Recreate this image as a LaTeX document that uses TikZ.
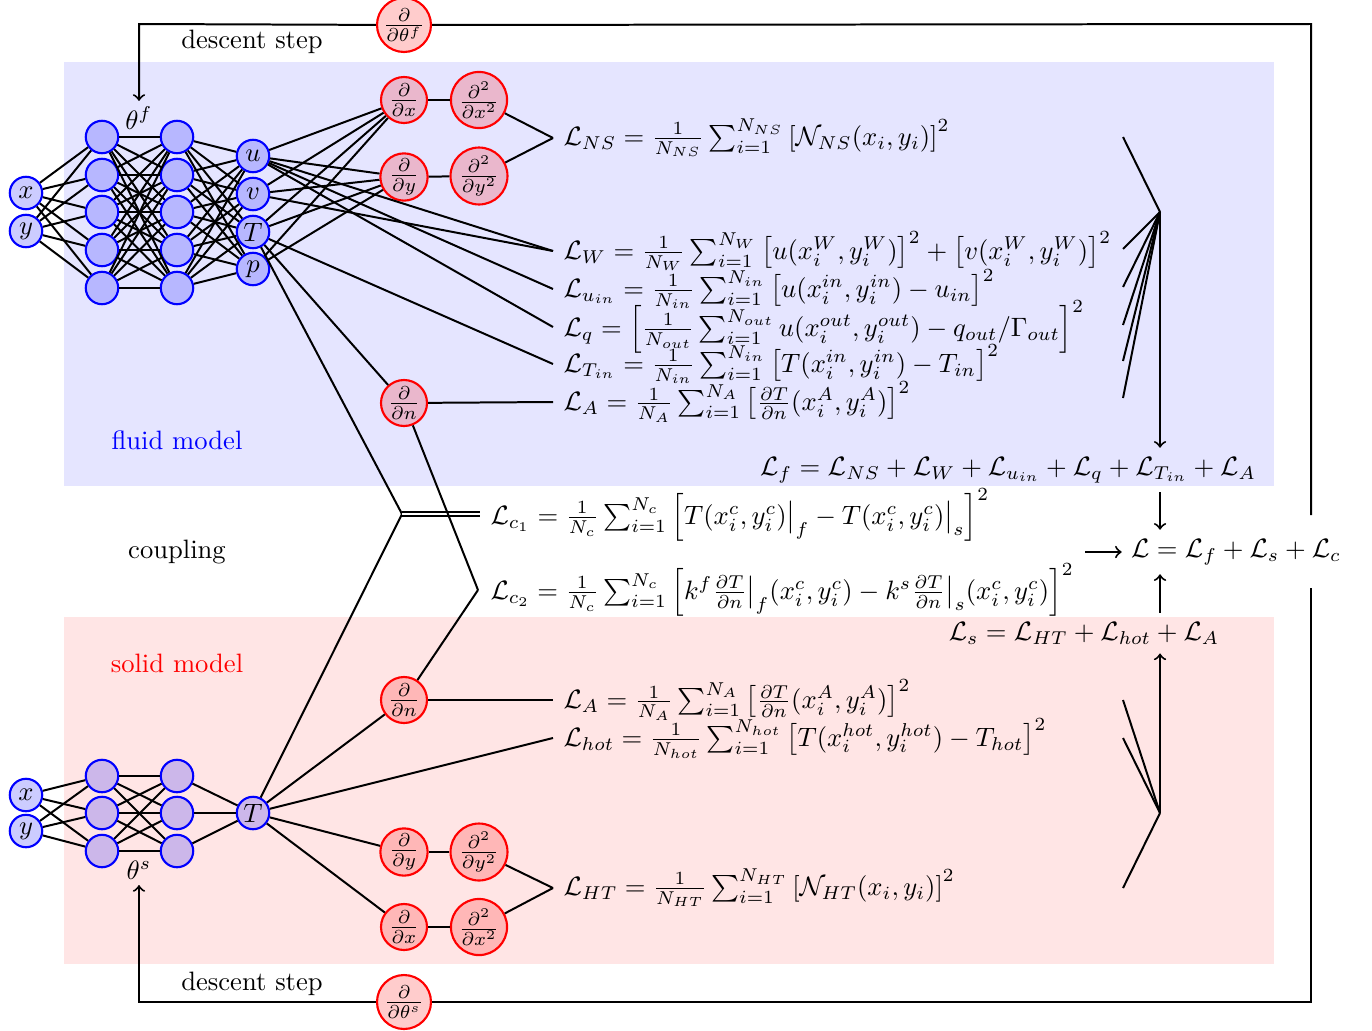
\documentclass[tikz,border=0pt]{standalone}
\usepackage{amsmath,amssymb}
\usetikzlibrary{calc}
\begin{document}
\begin{tikzpicture}[x=0.376pt,y=-0.376pt,
  conn/.style={line width=0.75pt},
  net/.style={circle,draw=blue,line width=0.8pt,fill=blue,fill opacity=0.2,text opacity=1,minimum size=12.2pt,inner sep=0pt},
  der/.style={circle,draw=red,line width=0.8pt,fill=red,fill opacity=0.2,text opacity=1,minimum size=17.3pt,inner sep=0pt},
  dder/.style={der,minimum size=21.1pt},
  tder/.style={der,minimum size=20.3pt},
  loss/.style={anchor=west,inner xsep=3.8pt,inner ysep=0pt},
  sumnode/.style={inner sep=3.33pt},
  lbl/.style={inner sep=2pt}]
\useasboundingbox (0,0) rectangle (1372,1030);
% backgrounds
\fill[blue!10] (64,62) rectangle (1274,486);
\fill[red!10] (64,617) rectangle (1274,964);

% ---------- fluid network ----------
\node[net] (fx) at (26,193) {$x$};
\node[net] (fy) at (26,231) {$y$};
\foreach \i/\y in {1/137,2/175,3/212,4/250,5/288}{
  \node[net] (fa\i) at (102,\y) {};
  \node[net] (fb\i) at (177,\y) {};
}
\node[net] (fu) at (253,156) {$u$};
\node[net] (fv) at (253,194) {$v$};
\node[net] (fT) at (253,232) {$T$};
\node[net] (fp) at (253,269) {$p$};
\foreach \i in {1,...,5}{
  \draw[conn] (fx) -- (fa\i);
  \draw[conn] (fy) -- (fa\i);
  \foreach \j in {1,...,5}{\draw[conn] (fa\i) -- (fb\j);}
  \foreach \o in {fu,fv,fT,fp}{\draw[conn] (fb\i) -- (\o);}
}
\node[lbl] (thf) at (139,118) {$\theta^f$};

% fluid derivative nodes
\node[der] (fdx) at (404,100) {$\frac{\partial}{\partial x}$};
\node[dder] (fdxx) at (479,100) {$\frac{\partial^2}{\partial x^2}$};
\node[der] (fdy) at (404,177) {$\frac{\partial}{\partial y}$};
\node[dder] (fdyy) at (479,176) {$\frac{\partial^2}{\partial y^2}$};
\node[der] (fdn) at (404,403) {$\frac{\partial}{\partial n}$};

% fluid losses
\node[loss] (LNS) at (553,138) {$\mathcal{L}_{NS} = \frac{1}{N_{NS}}\sum_{i=1}^{N_{NS}}\left[\mathcal{N}_{NS}(x_i,y_i)\right]^2$};
\node[loss] (LW) at (553,251) {$\mathcal{L}_{W} = \frac{1}{N_{W}}\sum_{i=1}^{N_{W}}\left[u(x_i^W,y_i^W)\right]^2+\left[v(x_i^W,y_i^W)\right]^2$};
\node[loss] (Luin) at (553,289) {$\mathcal{L}_{u_{in}} = \frac{1}{N_{in}}\sum_{i=1}^{N_{in}}\left[u(x_i^{in},y_i^{in})-u_{in}\right]^2$};
\node[loss] (Lq) at (553,327) {$\mathcal{L}_{q} = \left[\frac{1}{N_{out}}\sum_{i=1}^{N_{out}}u(x_i^{out},y_i^{out})-q_{out}/\Gamma_{out}\right]^2$};
\node[loss] (LTin) at (553,364) {$\mathcal{L}_{T_{in}} = \frac{1}{N_{in}}\sum_{i=1}^{N_{in}}\left[T(x_i^{in},y_i^{in})-T_{in}\right]^2$};
\node[loss] (fLA) at (553,402) {$\mathcal{L}_{A} = \frac{1}{N_{A}}\sum_{i=1}^{N_{A}}\left[\frac{\partial T}{\partial n}(x_i^A,y_i^A)\right]^2$};
\node[sumnode] (Lf) at (1008,470) {$\mathcal{L}_f = \mathcal{L}_{NS}+\mathcal{L}_{W}+\mathcal{L}_{u_{in}}+\mathcal{L}_q+\mathcal{L}_{T_{in}}+\mathcal{L}_A$};

% fluid connections
\foreach \o in {fu,fv,fT,fp}{
  \draw[conn] (\o) -- (fdx);
  \draw[conn] (\o) -- (fdy);
}
\draw[conn] (fdx) -- (fdxx);
\draw[conn] (fdy) -- (fdyy);
\draw[conn] (fdxx) -- (LNS.west);
\draw[conn] (fdyy) -- (LNS.west);
\draw[conn] (fu) -- (LW.west);
\draw[conn] (fv) -- (LW.west);
\draw[conn] (fu) -- (Luin.west);
\draw[conn] (fu) -- (Lq.west);
\draw[conn] (fT) -- (LTin.west);
\draw[conn] (fT) -- (fdn);
\draw[conn] (fdn) -- (fLA.west);

% fluid sum
\coordinate (jf) at (1160,212);
\foreach \y in {137,249,287,325,361,398}{\draw[conn] (1123,\y) -- (jf);}
\draw[conn,->] (jf) -- (jf |- Lf.north);

% ---------- solid network ----------
\node[net] (sx) at (26,795) {$x$};
\node[net] (sy) at (26,831) {$y$};
\foreach \i/\y in {1/776,2/813,3/851}{
  \node[net] (sa\i) at (102,\y) {};
  \node[net] (sb\i) at (177,\y) {};
}
\node[net] (sT) at (253,813) {$T$};
\foreach \i in {1,2,3}{
  \draw[conn] (sx) -- (sa\i);
  \draw[conn] (sy) -- (sa\i);
  \foreach \j in {1,2,3}{\draw[conn] (sa\i) -- (sb\j);}
  \draw[conn] (sb\i) -- (sT);
}
\node[lbl] (ths) at (139,870) {$\theta^s$};

\node[der] (sdn) at (404,700) {$\frac{\partial}{\partial n}$};
\node[der] (sdy) at (404,852) {$\frac{\partial}{\partial y}$};
\node[dder] (sdyy) at (479,852) {$\frac{\partial^2}{\partial y^2}$};
\node[der] (sdx) at (404,927) {$\frac{\partial}{\partial x}$};
\node[dder] (sdxx) at (479,927) {$\frac{\partial^2}{\partial x^2}$};

\node[loss] (sLA) at (553,700) {$\mathcal{L}_{A} = \frac{1}{N_{A}}\sum_{i=1}^{N_{A}}\left[\frac{\partial T}{\partial n}(x_i^A,y_i^A)\right]^2$};
\node[loss] (Lhot) at (553,738) {$\mathcal{L}_{hot} = \frac{1}{N_{hot}}\sum_{i=1}^{N_{hot}}\left[T(x_i^{hot},y_i^{hot})-T_{hot}\right]^2$};
\node[loss] (LHT) at (553,888) {$\mathcal{L}_{HT} = \frac{1}{N_{HT}}\sum_{i=1}^{N_{HT}}\left[\mathcal{N}_{HT}(x_i,y_i)\right]^2$};
\node[sumnode] (Ls) at (1084,633) {$\mathcal{L}_s = \mathcal{L}_{HT}+\mathcal{L}_{hot}+\mathcal{L}_A$};

\draw[conn] (sT) -- (sdn);
\draw[conn] (sT) -- (Lhot.west);
\draw[conn] (sT) -- (sdy);
\draw[conn] (sT) -- (sdx);
\draw[conn] (sdn) -- (sLA.west);
\draw[conn] (sdy) -- (sdyy);
\draw[conn] (sdx) -- (sdxx);
\draw[conn] (sdyy) -- (LHT.west);
\draw[conn] (sdxx) -- (LHT.west);

\coordinate (js) at (1160,813);
\foreach \y in {700,738,888}{\draw[conn] (1123,\y) -- (js);}
\draw[conn,->] (js) -- (js |- Ls.south);

% ---------- coupling ----------
\node[loss,inner xsep=3.8pt] (Lc1) at (480,515) {$\mathcal{L}_{c_1} = \frac{1}{N_c}\sum_{i=1}^{N_c}\left[T(x_i^c,y_i^c)\big|_f - T(x_i^c,y_i^c)\big|_s\right]^2$};
\node[loss,inner xsep=4.5pt] (Lc2) at (478,590) {$\mathcal{L}_{c_2} = \frac{1}{N_c}\sum_{i=1}^{N_c}\left[k^f\frac{\partial T}{\partial n}\big|_f(x_i^c,y_i^c) - k^s\frac{\partial T}{\partial n}\big|_s(x_i^c,y_i^c)\right]^2$};
\coordinate (jc1) at (402,514);
\draw[conn] (fT) -- (jc1);
\draw[conn] (sT) -- (jc1);
\draw[line width=0.6pt,double,double distance=0.9pt] (jc1) -- (jc1 -| Lc1.west);
\draw[conn] (fdn) -- (Lc2.west);
\draw[conn] (sdn) -- (Lc2.west);

\node[sumnode] (L) at (1236,552) {$\mathcal{L} = \mathcal{L}_f+\mathcal{L}_s+\mathcal{L}_c$};
\coordinate (cArr) at (1085,552);
\draw[conn,->] (cArr) -- (L.west);
\draw[conn,->] (jf |- Lf.south) -- (jf |- L.north);
\draw[conn,->] (jf |- Ls.north) -- (jf |- L.south);

% labels
\node[text=blue] (fluidlbl) at (177,440) {fluid model};
\node[text=red] (solidlbl) at (177,663) {solid model};
\node (couplbl) at (177,552) {coupling};

% ---------- feedback loops ----------
\node[tder] (dthf) at (404,25) {$\frac{\partial}{\partial\theta^f}$};
\node[tder] (dths) at (404,1002) {$\frac{\partial}{\partial\theta^s}$};
\coordinate (rtop) at (1311,515);
\coordinate (rbot) at (1311,588);
\coordinate (tr) at (1311,24);
\coordinate (br) at (1311,1002);
\coordinate (tl) at (139,24);
\coordinate (bl) at (139,1002);
\draw[conn] (rtop) -- (tr) -- (dthf);
\draw[conn,->] (dthf) -- (tl) -- (thf);
\draw[conn] (rbot) -- (br) -- (dths);
\draw[conn,->] (dths) -- (bl) -- (ths);
\node (ds1) at (252,42) {descent step};
\node (ds2) at (252,984) {descent step};
\end{tikzpicture}
\end{document}
